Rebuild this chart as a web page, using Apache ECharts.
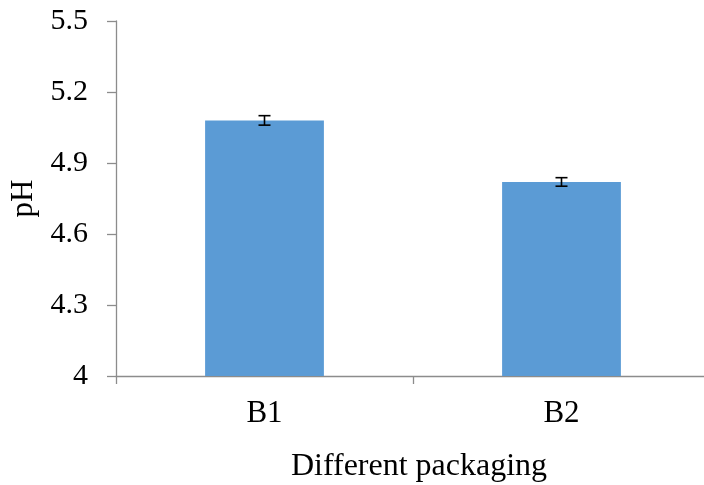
<!DOCTYPE html>
<html>
<head>
<meta charset="utf-8">
<script src="https://cdn.jsdelivr.net/npm/echarts@6/dist/echarts.min.js"></script>
<style>
  html, body { margin: 0; padding: 0; background: #fff; }
  #chart { width: 704px; height: 485px; }
</style>
</head>
<body>
<div id="chart"></div>
<script>
// pH by packaging type, mean with error
const categories = ['B1', 'B2'];
const phValues = [5.08, 4.82];
const phErrors = [0.02, 0.018];
const yTicks = { min: 4, max: 5.5, step: 0.3 };

const chart = echarts.init(document.getElementById('chart'));
const serif = '"Liberation Serif", "Times New Roman", serif';
const axisGray = '#8c8c8c';

const errorData = categories.map((c, i) => [i, phValues[i] - phErrors[i], phValues[i] + phErrors[i]]);

chart.setOption({
  animation: false,
  grid: { left: 116, top: 21, right: -6, bottom: 109, containLabel: false, outerBoundsMode: 'none' },
  xAxis: {
    type: 'category',
    data: categories,
    name: 'Different packaging',
    nameLocation: 'middle',
    nameGap: 75,
    nameTextStyle: { fontFamily: serif, fontSize: 32, color: '#000', padding: [0, 0, 0, 12] },
    axisLine: { lineStyle: { color: axisGray, width: 1.3 } },
    axisTick: { show: true, length: 8, lineStyle: { color: axisGray, width: 1.3 } },
    axisLabel: { fontFamily: serif, fontSize: 31, color: '#000', margin: 22 }
  },
  yAxis: {
    type: 'value',
    min: yTicks.min,
    max: yTicks.max,
    interval: yTicks.step,
    name: 'pH',
    nameLocation: 'middle',
    nameGap: 76,
    nameRotate: 90,
    nameTextStyle: { fontFamily: serif, fontSize: 31, color: '#000' },
    axisLine: { show: true, lineStyle: { color: axisGray, width: 1.3 } },
    axisTick: { show: true, length: 9, lineStyle: { color: axisGray, width: 1.3 } },
    splitLine: { show: false },
    axisLabel: {
      fontFamily: serif, fontSize: 30, color: '#000', margin: 28,
      formatter: v => {
        const r = Math.round(v * 10) / 10;
        return Number.isInteger(r) ? String(r) : r.toFixed(1);
      }
    }
  },
  series: [
    {
      type: 'bar',
      data: phValues,
      barWidth: '40%',
      itemStyle: { color: '#5B9BD5' }
    },
    {
      type: 'custom',
      data: errorData,
      z: 10,
      renderItem: (params, api) => {
        const x = api.value(0);
        const lo = api.coord([x, api.value(1)]);
        const hi = api.coord([x, api.value(2)]);
        const half = 6;
        const style = { stroke: '#000', lineWidth: 1.6, fill: null };
        return {
          type: 'group',
          children: [
            { type: 'line', shape: { x1: hi[0], y1: hi[1], x2: lo[0], y2: lo[1] }, style },
            { type: 'line', shape: { x1: hi[0] - half, y1: hi[1], x2: hi[0] + half, y2: hi[1] }, style },
            { type: 'line', shape: { x1: lo[0] - half, y1: lo[1], x2: lo[0] + half, y2: lo[1] }, style }
          ]
        };
      }
    }
  ]
});
</script>
</body>
</html>
